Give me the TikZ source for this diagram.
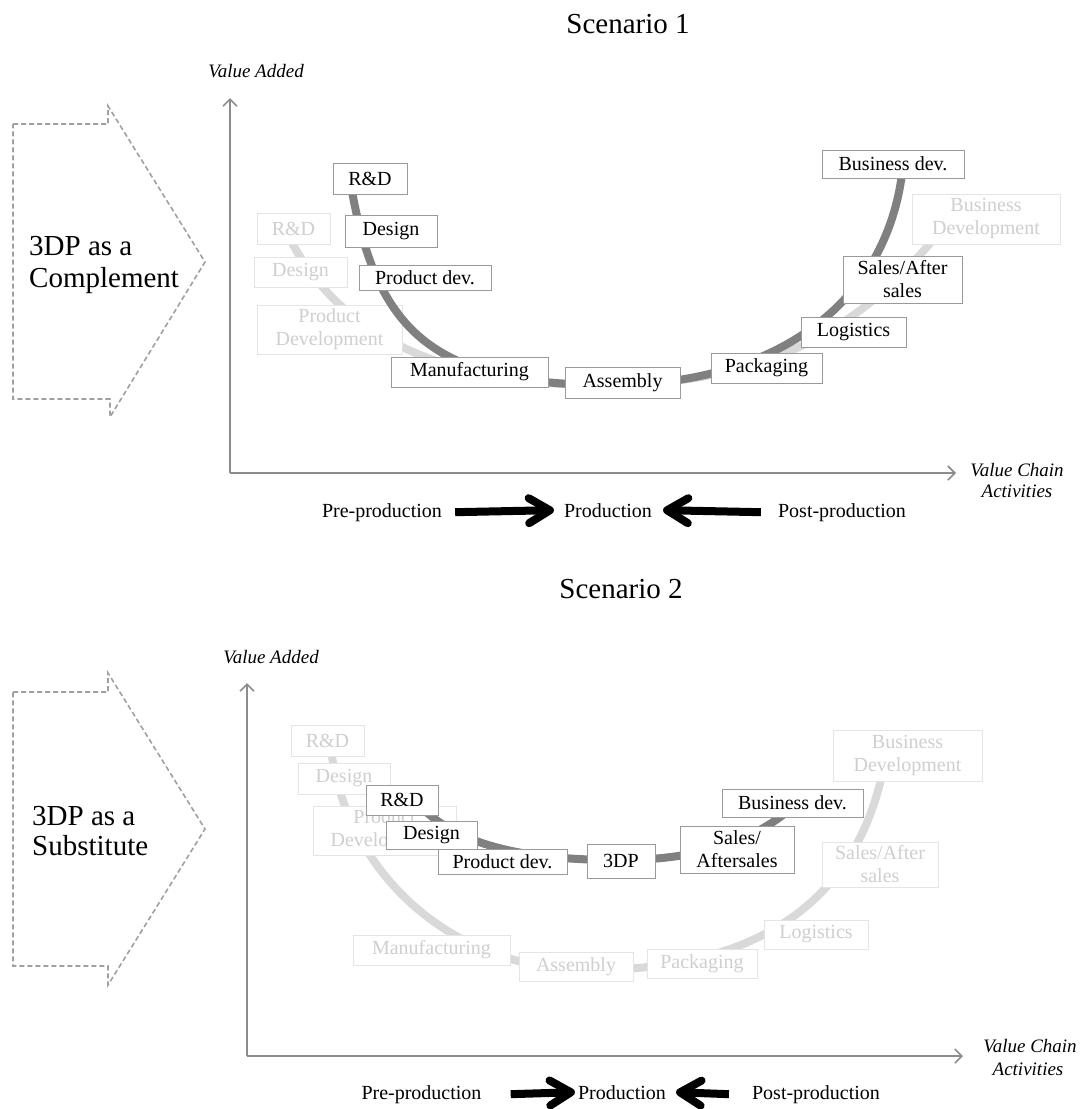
\documentclass[tikz,border=0pt]{standalone}
\usepackage{fontspec}
\setmainfont{Liberation Serif}
\usetikzlibrary{arrows.meta,calc}
\definecolor{darkline}{HTML}{808080}
\definecolor{lightline}{HTML}{D9D9D9}
\definecolor{axisgray}{HTML}{8C8C8C}
\definecolor{boxgray}{HTML}{9A9A9A}
\definecolor{lbord}{HTML}{E4E4E4}
\definecolor{ltext}{HTML}{CFCFCF}
\definecolor{dashgray}{HTML}{A0A0A0}
\begin{document}
\begin{tikzpicture}[x=1pt,y=-1pt,
  dbox/.style={draw=boxgray,line width=1pt,fill=white,text=black,inner sep=0pt,align=center,font=\fontsize{20}{23}\selectfont},
  lbox/.style={draw=lbord,line width=1pt,fill=white,text=ltext,inner sep=0pt,align=center,font=\fontsize{20}{23}\selectfont},
  darkcurve/.style={draw=darkline,line width=8pt},
  lightcurve/.style={draw=lightline,line width=8pt},
  axisline/.style={draw=axisgray,line width=1.6pt,-{Straight Barb[length=7pt,width=14pt]}},
  bigarrow/.style={draw=black,line width=8pt,-{Straight Barb[length=21pt,width=25pt,round]}},
  lbl/.style={inner sep=0pt,font=\fontsize{20}{23}\selectfont},
  axlbl/.style={inner sep=0pt,font=\fontsize{19}{21}\selectfont\itshape},
  ttl/.style={inner sep=0pt,font=\fontsize{29}{34}\selectfont},
  shapetext/.style={inner sep=0pt,font=\fontsize{29}{32}\selectfont},
  dashshape/.style={draw=dashgray,line width=1.6pt,dash pattern=on 5pt off 3pt}
]
\useasboundingbox (0,0) rectangle (1084,1109);

% ================= Scenario 1 =================
\node[ttl,anchor=base] (t1) at (628,33) {Scenario 1};
\node[axlbl,anchor=base] (va1) at (256,77) {Value Added};
\coordinate (o1) at (230,473);
\coordinate (yt1) at (230,98);
\coordinate (xt1) at (956,473);
\draw[axisline] (o1) -- (yt1);
\draw[axisline] (o1) -- (xt1);
\node[axlbl,anchor=base] (vc1a) at (1017,476) {Value Chain};
\node[axlbl,anchor=base] (vc1b) at (1017,497) {Activities};

\draw[dashshape] (13,124) -- (108,124) -- (108,106) -- (205,262) -- (110,417) -- (110,399) -- (13,399) -- cycle;
\node[shapetext,anchor=base west] (c1a) at (29,255) {3DP as a};
\node[shapetext,anchor=base west] (c1b) at (29,287) {Complement};

\draw[lightcurve] (288,235) .. controls (330,320) and (420,385) .. (600,385) .. controls (780,385) and (870,320) .. (945,225);

\node[lbox,minimum width=73pt,minimum height=31pt] (lrd1) at (293.5,228.5) {R\&D};
\node[lbox,minimum width=93pt,minimum height=30pt] (lds1) at (300.5,272) {Design};
\node[lbox,minimum width=145pt,minimum height=49pt] (lpd1) at (329.5,329.5) {Product\\Development};
\node[lbox,minimum width=148pt,minimum height=50pt] (lbd1) at (986,219) {Business\\Development};

\draw[darkcurve] (350,180) .. controls (375,330) and (430,385) .. (610,385) .. controls (780,385) and (890,300) .. (903,165);

\node[dbox,minimum width=74pt,minimum height=31pt] (rd1) at (370,178.5) {R\&D};
\node[dbox,minimum width=92pt,minimum height=32pt] (ds1) at (391,231) {Design};
\node[dbox,minimum width=132pt,minimum height=25pt] (pd1) at (425,277.5) {Product dev.};
\node[dbox,minimum width=157pt,minimum height=30pt] (mf1) at (469.5,372) {Manufacturing};
\node[dbox,minimum width=115pt,minimum height=31pt] (as1) at (622.5,382.5) {Assembly};
\node[dbox,minimum width=111pt,minimum height=30pt] (pk1) at (766.5,368) {Packaging};
\node[dbox,minimum width=105pt,minimum height=30pt] (lg1) at (853.5,332) {Logistics};
\node[dbox,minimum width=119pt,minimum height=47pt] (sa1) at (902.5,279.5) {Sales/After\\sales};
\node[dbox,minimum width=142pt,minimum height=28pt] (bd1) at (893,164) {Business dev.};

\node[lbl,anchor=base] (pre1) at (382,517) {Pre-production};
\node[lbl,anchor=base] (prod1) at (608,517) {Production};
\node[lbl,anchor=base] (post1) at (842,517) {Post-production};
\draw[bigarrow] ([xshift=13pt]pre1.east) -- ([xshift=-10pt]prod1.west);
\draw[bigarrow] ([xshift=-17pt]post1.west) -- ([xshift=11pt]prod1.east);

% ================= Scenario 2 =================
\node[ttl,anchor=base] (t2) at (621,598) {Scenario 2};
\node[axlbl,anchor=base] (va2) at (271,663) {Value Added};
\coordinate (o2) at (247,1056);
\coordinate (yt2) at (247,683);
\coordinate (xt2) at (963,1056);
\draw[axisline] (o2) -- (yt2);
\draw[axisline] (o2) -- (xt2);
\node[axlbl,anchor=base] (vc2a) at (1030,1052) {Value Chain};
\node[axlbl,anchor=base] (vc2b) at (1028,1075) {Activities};

\draw[dashshape] (13,692) -- (108,692) -- (108,673) -- (205,829) -- (108,985) -- (108,966) -- (13,966) -- cycle;
\node[shapetext,anchor=base west] (c2a) at (32,825) {3DP as a};
\node[shapetext,anchor=base west] (c2b) at (32,855) {Substitute};

\draw[lightcurve] (330,740) .. controls (340,860) and (440,970) .. (590,970) .. controls (760,970) and (860,900) .. (885,760);

\node[lbox,minimum width=73pt,minimum height=31pt] (lrd2) at (327.5,740.5) {R\&D};
\node[lbox,minimum width=92pt,minimum height=31pt] (lds2) at (344,778.5) {Design};
\node[lbox,minimum width=143pt,minimum height=49pt] (lpd2) at (384.5,830.5) {Product\\Development};
\node[lbox,minimum width=157pt,minimum height=30pt] (lmf2) at (431.5,950) {Manufacturing};
\node[lbox,minimum width=114pt,minimum height=29pt] (las2) at (576,966.5) {Assembly};
\node[lbox,minimum width=110pt,minimum height=29pt] (lpk2) at (702,963.5) {Packaging};
\node[lbox,minimum width=104pt,minimum height=29pt] (llg2) at (816,934.5) {Logistics};
\node[lbox,minimum width=116pt,minimum height=45pt] (lsa2) at (880,864.5) {Sales/After\\sales};
\node[lbox,minimum width=149pt,minimum height=51pt] (lbd2) at (907.5,755.5) {Business\\Development};

\draw[darkcurve] (410,795) .. controls (450,845) and (520,860) .. (620,860) .. controls (700,860) and (760,840) .. (800,800);

\node[dbox,minimum width=72pt,minimum height=30pt] (rd2) at (402,800) {R\&D};
\node[dbox,minimum width=129pt,minimum height=25pt] (pd2) at (502.5,861.5) {Product dev.};
\node[dbox,minimum width=91pt,minimum height=28pt] (ds2) at (431.5,835) {Design};
\node[dbox,minimum width=68pt,minimum height=34pt] (p3d2) at (621,861) {3DP};
\node[dbox,minimum width=114pt,minimum height=47pt] (sa2) at (737,849.5) {Sales/\\Aftersales};
\node[dbox,minimum width=141pt,minimum height=28pt] (bd2) at (792.5,803) {Business dev.};

\node[lbl,anchor=base] (pre2) at (421.5,1099) {Pre-production};
\node[lbl,anchor=base] (prod2) at (622,1099) {Production};
\node[lbl,anchor=base] (post2) at (816,1099) {Post-production};
\draw[bigarrow] ([xshift=29pt]pre2.east) -- ([xshift=-3pt]prod2.west);
\draw[bigarrow] ([xshift=-23pt]post2.west) -- ([xshift=10pt]prod2.east);
\end{tikzpicture}
\end{document}
